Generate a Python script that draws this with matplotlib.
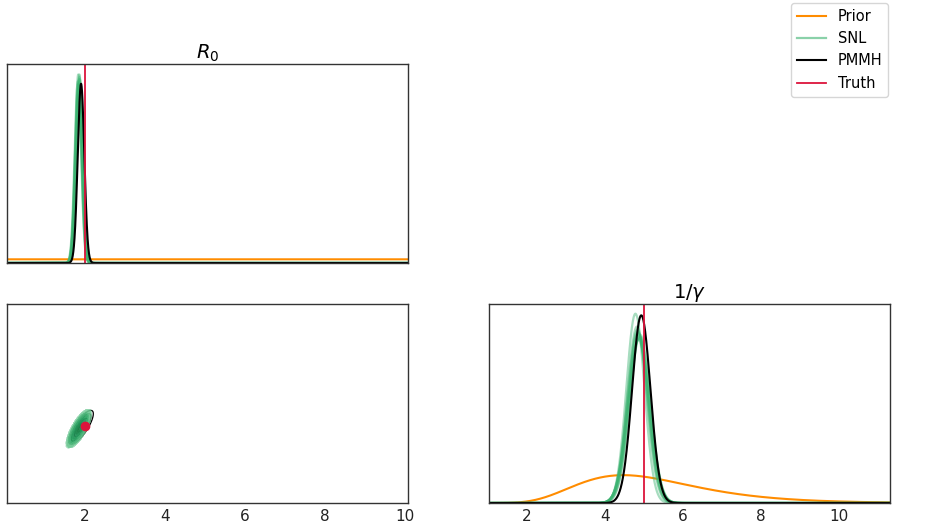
import numpy as np
import matplotlib
matplotlib.use("Agg")
import matplotlib.pyplot as plt
from matplotlib.lines import Line2D

# ---------------- data ----------------
truth_r0 = 2.0
truth_invg = 5.0

prior_r0_density = 0.1                                   # uniform prior on R0
prior_invg_logmean, prior_invg_logsd = np.log(5.0), 0.335   # log-normal prior on 1/gamma

pmmh_r0 = (1.90, 0.082)
pmmh_invg = (4.93, 0.235)
pmmh_rho = 0.80

snl_r0_mean = [1.83, 1.85, 1.84, 1.86, 1.82, 1.85, 1.87, 1.84, 1.86, 1.83]
snl_r0_sd = [0.078, 0.080, 0.082, 0.079, 0.081, 0.083, 0.080, 0.084, 0.078, 0.082]
snl_invg_mean = [4.78, 4.85, 4.88, 4.83, 4.86, 4.90, 4.84, 4.87, 4.82, 4.89]
snl_invg_sd = [0.233, 0.260, 0.265, 0.255, 0.270, 0.262, 0.258, 0.268, 0.250, 0.264]
snl_rho = [0.78, 0.77, 0.80, 0.76, 0.79, 0.77, 0.80, 0.78, 0.76, 0.79]

r0_lim = (0.05, 10.07)
invg_lim = (1.03, 11.3)
r0_ticks = [2, 4, 6, 8, 10]
invg_ticks = [2, 4, 6, 8, 10]
titles = [r"$R_0$", r"$1/\gamma$"]
legend_labels = ["Prior", "SNL", "PMMH", "Truth"]

# ---------------- styles ----------------
C_PRIOR = "#FF8C00"
C_SNL = "#3CB371"
C_PMMH = "black"
C_TRUTH = "#DC143C"


def normal_pdf(x, m, s):
    return np.exp(-0.5 * ((x - m) / s) ** 2) / (s * np.sqrt(2 * np.pi))


def lognormal_pdf(x, mu, s):
    return np.exp(-0.5 * ((np.log(x) - mu) / s) ** 2) / (x * s * np.sqrt(2 * np.pi))


def mahal2(X, Y, mx, sx, my, sy, rho):
    zx = (X - mx) / sx
    zy = (Y - my) / sy
    return (zx ** 2 - 2 * rho * zx * zy + zy ** 2) / (1 - rho ** 2)


fig = plt.figure(figsize=(9.34, 5.32), dpi=100)
W, H = 934, 532


def add_ax(x0, y0, x1, y1):
    return fig.add_axes([x0 / W, 1 - y1 / H, (x1 - x0) / W, (y1 - y0) / H])


ax_r0 = add_ax(7, 64, 408, 263)
ax_2d = add_ax(7, 304, 408, 503)
ax_g = add_ax(489, 304, 890, 503)

for ax in (ax_r0, ax_2d, ax_g):
    ax.set_yticks([])
    ax.tick_params(axis="x", length=0, pad=4.5, labelsize=11, colors="#222222")
    for sp in ax.spines.values():
        sp.set_color("#333333")
        sp.set_linewidth(1.0)

# ---- R0 marginal ----
xr = np.linspace(r0_lim[0], r0_lim[1], 4000)
ax_r0.plot(xr, np.full_like(xr, prior_r0_density), color=C_PRIOR, lw=1.5)
for m, s in zip(snl_r0_mean, snl_r0_sd):
    ax_r0.plot(xr, normal_pdf(xr, m, s), color=C_SNL, lw=1.6, alpha=0.45)
ax_r0.plot(xr, normal_pdf(xr, *pmmh_r0), color=C_PMMH, lw=1.5)
ax_r0.axvline(truth_r0, color=C_TRUTH, lw=1.3)
ax_r0.set_xlim(r0_lim)
ax_r0.set_ylim(0, 5.4)
ax_r0.set_xticks(r0_ticks)
ax_r0.set_xticklabels([])
ax_r0.set_title(titles[0], fontsize=14, pad=2)

# ---- 1/gamma marginal ----
xg = np.linspace(invg_lim[0], invg_lim[1], 3000)
ax_g.plot(xg, lognormal_pdf(xg, prior_invg_logmean, prior_invg_logsd), color=C_PRIOR, lw=1.5)
for m, s in zip(snl_invg_mean, snl_invg_sd):
    ax_g.plot(xg, normal_pdf(xg, m, s), color=C_SNL, lw=1.6, alpha=0.45)
ax_g.plot(xg, normal_pdf(xg, *pmmh_invg), color=C_PMMH, lw=1.5)
ax_g.axvline(truth_invg, color=C_TRUTH, lw=1.3)
ax_g.set_xlim(invg_lim)
ax_g.set_ylim(0, 1.80)
ax_g.set_xticks(invg_ticks)
ax_g.set_title(titles[1], fontsize=14, pad=2)

# ---- joint ----
gx = np.linspace(1.2, 2.6, 300)
gy = np.linspace(3.0, 7.0, 300)
GX, GY = np.meshgrid(gx, gy)
d_pmmh = mahal2(GX, GY, pmmh_r0[0], pmmh_r0[1], pmmh_invg[0], pmmh_invg[1], pmmh_rho)
ax_2d.contour(GX, GY, d_pmmh, levels=[1, 4, 9, 14], colors=C_PMMH, linewidths=0.9, zorder=2)
for i in range(len(snl_r0_mean)):
    d = mahal2(GX, GY, snl_r0_mean[i], snl_r0_sd[i], snl_invg_mean[i], snl_invg_sd[i], snl_rho[i])
    ax_2d.contourf(GX, GY, d, levels=[0, 1, 4, 9, 14],
                   colors=["#1E8449", "#24935A", "#2FA866", "#6CC892"],
                   alpha=0.22, zorder=3)
ax_2d.plot([truth_r0], [truth_invg], "o", color=C_TRUTH, ms=6, zorder=5)
ax_2d.set_xlim(r0_lim)
ax_2d.set_ylim(invg_lim)
ax_2d.set_xticks(r0_ticks)

# ---- legend ----
handles = [Line2D([], [], color=C_PRIOR, lw=1.5),
           Line2D([], [], color=C_SNL, lw=1.6, alpha=0.6),
           Line2D([], [], color=C_PMMH, lw=1.5),
           Line2D([], [], color=C_TRUTH, lw=1.3)]
fig.legend(handles, legend_labels, loc="upper right",
           bbox_to_anchor=(888 / W, 1 - 3 / H), borderaxespad=0, fontsize=10.5)

fig.savefig("out.png", dpi=100)
